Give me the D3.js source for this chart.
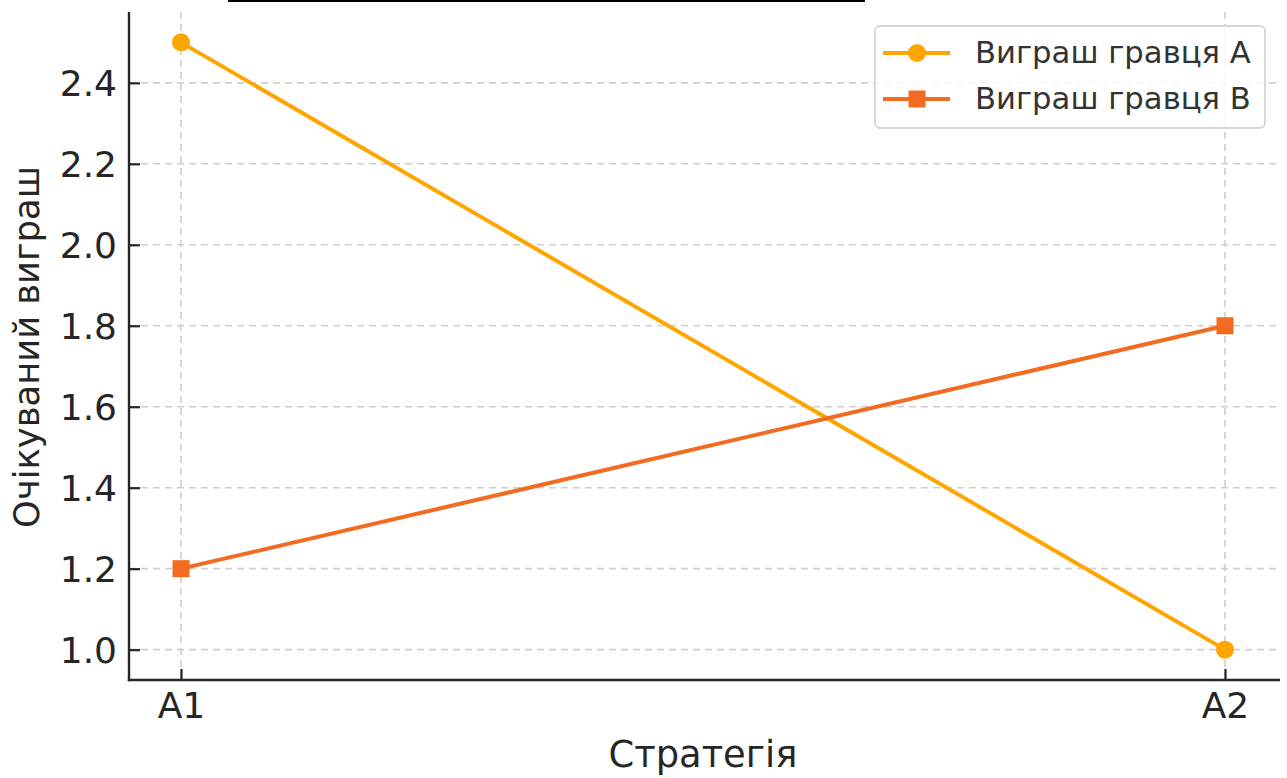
<!DOCTYPE html>
<html>
<head>
<meta charset="utf-8">
<script src="https://cdn.jsdelivr.net/npm/d3@7"></script>
<style>
  html, body { margin: 0; padding: 0; background: #fff; }
  svg { display: block; font-family: "DejaVu Sans", sans-serif; }
</style>
</head>
<body>
<svg id="chart" width="1287" height="778"></svg>
<script>
const categories = ["A1", "A2"];
const seriesNames = ["Виграш гравця A", "Виграш гравця B"];
const payoffA = [2.5, 1.0];
const payoffB = [1.2, 1.8];
const yTicks = [1.0, 1.2, 1.4, 1.6, 1.8, 2.0, 2.2, 2.4];
const xLabel = "Стратегія";
const yLabel = "Очікуваний виграш";

const svg = d3.select("#chart");
const pL = 129, pR = 1277, pT = 12, pB = 680;

const x = d3.scalePoint().domain(categories).range([181, 1225]);
const y = d3.scaleLinear().domain([0.925, 2.575]).range([pB, pT]);

const textColor = "#262626";
const colA = "#FFA500", colB = "#F26B21";

// top remnant line
svg.append("rect").attr("x", 228).attr("y", 0).attr("width", 637).attr("height", 2).attr("fill", "#000");

// grid
const grid = svg.append("g");
yTicks.forEach(t => {
  grid.append("line").attr("x1", pL).attr("x2", pR).attr("y1", y(t)).attr("y2", y(t))
    .attr("stroke", "#cfcfcf").attr("stroke-width", 1.6).attr("stroke-dasharray", "7,5");
});
categories.forEach(c => {
  grid.append("line").attr("x1", x(c)).attr("x2", x(c)).attr("y1", pT).attr("y2", pB)
    .attr("stroke", "#cfcfcf").attr("stroke-width", 1.6).attr("stroke-dasharray", "7,5");
});

// axes
const yAxis = d3.axisLeft(y).tickValues(yTicks).tickFormat(d3.format(".1f")).tickSizeInner(-11).tickSizeOuter(0).tickPadding(12);
const gy = svg.append("g").attr("transform", `translate(${pL},0)`).call(yAxis);
gy.select(".domain").remove();
gy.selectAll(".tick line").attr("stroke", textColor).attr("stroke-width", 2.2);
gy.selectAll(".tick text").attr("fill", textColor).style("font-size", "36px").style("font-family", "DejaVu Sans").attr("dy", "0.36em");

const xAxis = d3.axisBottom(x).tickSizeInner(-11).tickSizeOuter(0).tickPadding(12);
const gx = svg.append("g").attr("transform", `translate(0,${pB})`).call(xAxis);
gx.select(".domain").remove();
gx.selectAll(".tick line").attr("stroke", textColor).attr("stroke-width", 2.2);
gx.selectAll(".tick text").attr("fill", textColor).style("font-size", "36px").style("font-family", "DejaVu Sans");

// spines
svg.append("line").attr("x1", pL).attr("x2", pL).attr("y1", pT).attr("y2", pB + 1.2)
  .attr("stroke", textColor).attr("stroke-width", 2.4);
svg.append("line").attr("x1", pL - 1.2).attr("x2", pR + 3).attr("y1", pB).attr("y2", pB)
  .attr("stroke", textColor).attr("stroke-width", 2.4);

// lines
const line = d3.line().x((d, i) => x(categories[i])).y(d => y(d));
svg.append("path").datum(payoffA).attr("d", line).attr("fill", "none").attr("stroke", colA).attr("stroke-width", 4);
svg.append("path").datum(payoffB).attr("d", line).attr("fill", "none").attr("stroke", colB).attr("stroke-width", 4);

svg.selectAll(".ptA").data(payoffA).enter().append("circle")
  .attr("cx", (d, i) => x(categories[i])).attr("cy", d => y(d)).attr("r", 9).attr("fill", colA);
svg.selectAll(".ptB").data(payoffB).enter().append("rect")
  .attr("x", (d, i) => x(categories[i]) - 8.5).attr("y", d => y(d) - 8.5).attr("width", 17).attr("height", 17).attr("fill", colB);

// axis labels
svg.append("text").attr("x", (pL + pR) / 2).attr("y", 767).attr("text-anchor", "middle")
  .attr("fill", textColor).style("font-size", "36.8px").text(xLabel);
svg.append("text").attr("transform", `translate(39,${(pT + pB) / 2 + 1}) rotate(-90)`).attr("text-anchor", "middle")
  .attr("fill", textColor).style("font-size", "35.3px").text(yLabel);

// legend
const lg = svg.append("g");
lg.append("rect").attr("x", 875).attr("y", 26).attr("width", 390).attr("height", 102).attr("rx", 5)
  .attr("fill", "#fff").attr("fill-opacity", 0.85).attr("stroke", "#d6d6d6").attr("stroke-width", 1.8);
const items = [
  { name: seriesNames[0], color: colA, shape: "circle", y: 53 },
  { name: seriesNames[1], color: colB, shape: "square", y: 99 }
];
items.forEach(it => {
  lg.append("line").attr("x1", 883).attr("x2", 950).attr("y1", it.y).attr("y2", it.y)
    .attr("stroke", it.color).attr("stroke-width", 4);
  if (it.shape === "circle") {
    lg.append("circle").attr("cx", 917).attr("cy", it.y).attr("r", 9).attr("fill", it.color);
  } else {
    lg.append("rect").attr("x", 908.5).attr("y", it.y - 8.5).attr("width", 17).attr("height", 17).attr("fill", it.color);
  }
  lg.append("text").attr("x", 975).attr("y", it.y - 1.5).attr("dy", "0.36em").attr("fill", "#333")
    .style("font-size", "30.7px").text(it.name);
});
</script>
</body>
</html>
